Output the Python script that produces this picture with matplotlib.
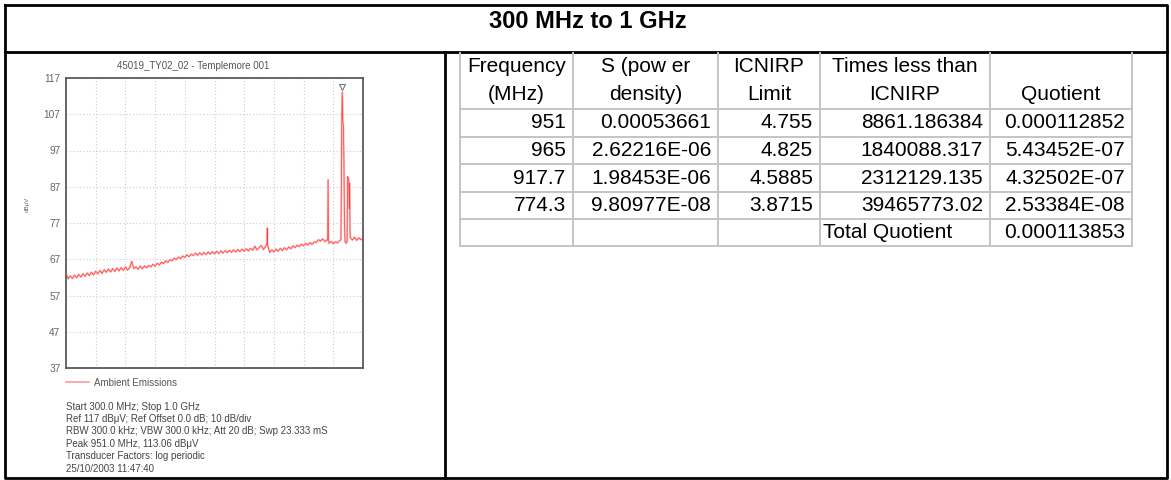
import numpy as np
import matplotlib
matplotlib.use("Agg")
import matplotlib.pyplot as plt

plt.rcParams['font.family'] = ['Liberation Sans', 'DejaVu Sans']

W, H = 1171, 480

# spectrum trace, one sweep point every 5 MHz
sweep_mhz = np.arange(300, 1001, 5)
sweep_dbuv = [
    63.2, 61.6, 62.4, 61.7, 62.6, 61.9, 62.8, 62.1, 63.0, 62.3,
    63.2, 62.5, 63.4, 62.7, 63.7, 63.0, 63.9, 63.1, 64.1, 63.4,
    64.3, 63.5, 64.4, 63.6, 64.6, 63.8, 64.7, 63.9, 64.9, 64.0,
    64.6, 66.4, 64.4, 64.9, 64.2, 65.1, 64.4, 65.2, 64.6, 65.3,
    64.9, 65.6, 65.1, 65.9, 65.4, 66.2, 65.8, 66.6, 66.1, 66.9,
    66.6, 67.3, 66.9, 67.6, 67.2, 67.9, 67.5, 68.2, 67.7, 68.4,
    68.0, 68.7, 68.1, 68.8, 68.2, 68.9, 68.3, 69.0, 68.4, 69.1,
    68.5, 69.2, 68.6, 69.3, 68.7, 69.4, 68.8, 69.5, 68.9, 69.6,
    69.0, 69.7, 69.1, 69.8, 69.2, 69.9, 69.3, 70.0, 69.5, 70.6,
    69.6, 70.2, 70.8, 69.7, 70.4, 71.0, 68.9, 69.6, 69.0, 69.8,
    69.2, 70.0, 69.4, 70.2, 69.6, 70.4, 69.9, 70.7, 70.2, 70.9,
    70.5, 71.2, 70.7, 71.4, 70.9, 71.6, 71.1, 71.8, 71.6, 72.4,
    72.0, 72.6, 71.9, 72.3, 71.4, 71.9, 71.3, 71.8, 71.5, 72.1,
    104.0, 95.0, 71.4, 89.5, 73.0, 72.3, 73.1, 72.2, 72.9, 72.4,
    72.8,
]

# extra points on the narrow peaks
peak_mhz = [773.5, 774.3,
            916.8, 917.7, 918.6,
            948.0, 949.5, 951.0, 952.5, 954.0, 956.0, 957.5,
            962.5, 963.5, 966.5, 967.5, 968.5, 969.5]
peak_dbuv = [71.2, 75.6,
             72.3, 88.9, 72.5,
             72.4, 96.0, 113.06, 105.0, 103.6, 80.0, 72.0,
             71.8, 89.8, 89.0, 81.0, 88.0, 74.0]

marker_mhz = 951.0
marker_dbuv = 114.6

y_ticks = [37, 47, 57, 67, 77, 87, 97, 107, 117]
x_grid = [370, 440, 510, 580, 650, 720, 790, 860, 930]

plot_title = "45019_TY02_02 - Templemore 001"
legend_label = "Ambient Emissions"
info_lines = [
    "Start 300.0 MHz; Stop 1.0 GHz",
    "Ref 117 dB\u03bcV; Ref Offset 0.0 dB; 10 dB/div",
    "RBW 300.0 kHz; VBW 300.0 kHz; Att 20 dB; Swp 23.333 mS",
    "Peak 951.0 MHz, 113.06 dB\u03bcV",
    "Transducer Factors: log periodic",
    "25/10/2003 11:47:40",
]

# table
header_top = ["Frequency", "S (pow er", "ICNIRP", "Times less than", ""]
header_bot = ["(MHz)", "density)", "Limit", "ICNIRP", "Quotient"]
freq_col = ["951", "965", "917.7", "774.3"]
s_col = ["0.00053661", "2.62216E-06", "1.98453E-06", "9.80977E-08"]
limit_col = ["4.755", "4.825", "4.5885", "3.8715"]
times_col = ["8861.186384", "1840088.317", "2312129.135", "39465773.02"]
quot_col = ["0.000112852", "5.43452E-07", "4.32502E-07", "2.53384E-08"]
total_label = "Total Quotient"
total_value = "0.000113853"

fig = plt.figure(figsize=(W / 100, H / 100), dpi=100)

# background axes in pixel coordinates for boxes and text
bg = fig.add_axes([0, 0, 1, 1])
bg.set_xlim(0, W)
bg.set_ylim(H, 0)
bg.axis("off")

# outer frame
k = dict(color="black", lw=2.0, solid_capstyle="projecting")
bg.plot([5, 1167, 1167, 5, 5], [5, 5, 478, 478, 5], **k)
bg.plot([5, 1167], [52, 52], **k)
bg.plot([445, 445], [52, 478], **k)
bg.text(588, 21, "300 MHz to 1 GHz", ha="center", va="center",
        fontsize=17, fontweight="bold")

# table grid
col_x = [460, 572.7, 718, 820, 990, 1131.7]
row_y = [53, 109, 136.7, 164.3, 191.7, 219, 245.7]
g = dict(color="#c4c4c4", lw=1.4)
for x in col_x:
    bg.plot([x, x], [row_y[0], row_y[-1]], **g)
for y in row_y[1:]:
    bg.plot([col_x[0], col_x[-1]], [y, y], **g)

tf = dict(fontsize=15, va="center", color="black")
for i in range(5):
    cx = (col_x[i] + col_x[i + 1]) / 2
    bg.text(cx, 66, header_top[i], ha="center", **tf)
    bg.text(cx, 95, header_bot[i], ha="center", **tf)

cols = [freq_col, s_col, limit_col, times_col, quot_col]
for r in range(4):
    cy = (row_y[r + 1] + row_y[r + 2]) / 2
    for c in range(5):
        bg.text(col_x[c + 1] - 7, cy, cols[c][r], ha="right", **tf)
cy = (row_y[5] + row_y[6]) / 2
bg.text(col_x[3] + 3, cy, total_label, ha="left", **tf)
bg.text(col_x[5] - 7, cy, total_value, ha="right", **tf)

# spectrum plot
ax = fig.add_axes([66 / W, 1 - 368 / H, 297 / W, 290 / H])
freqs = np.concatenate([sweep_mhz, peak_mhz])
levels = np.concatenate([sweep_dbuv, peak_dbuv])
order = np.argsort(freqs)
ax.plot(freqs[order], levels[order], color="#ffc0c0", lw=1.5, zorder=2)
ax.plot(freqs[order], levels[order], color="#ff3a3a", lw=0.5, zorder=3)
ax.plot(marker_mhz, marker_dbuv, marker="v", ms=5, mfc="white",
        mec="#777777", mew=0.8, zorder=4, clip_on=False)

ax.set_xlim(300, 1000)
ax.set_ylim(37, 117)
ax.set_yticks(y_ticks)
ax.set_xticks(x_grid)
ax.set_xticklabels([])
ax.tick_params(length=0, labelsize=7.3, labelcolor="#666666", pad=4)
ax.grid(True, color="#cccccc", ls=(0, (1, 2)), lw=0.8)
for s in ax.spines.values():
    s.set_color("#5a5a5a")
    s.set_linewidth(1.3)

bg.text(193, 66, plot_title, ha="center", va="center", fontsize=7,
        color="#555555")
bg.text(27, 204, "dB\u03bcV", ha="center", va="center", rotation=90,
        fontsize=4.5, color="#666666")

# legend
bg.plot([66, 89], [382, 382], color="#ff9999", lw=1.2)
bg.text(94, 382.5, legend_label, ha="left", va="center", fontsize=7,
        color="#555555")

for i, line in enumerate(info_lines):
    bg.text(66, 406.7 + i * 12.4, line, ha="left", va="center",
            fontsize=7, color="#444444")

fig.savefig("out.png", dpi=100)
